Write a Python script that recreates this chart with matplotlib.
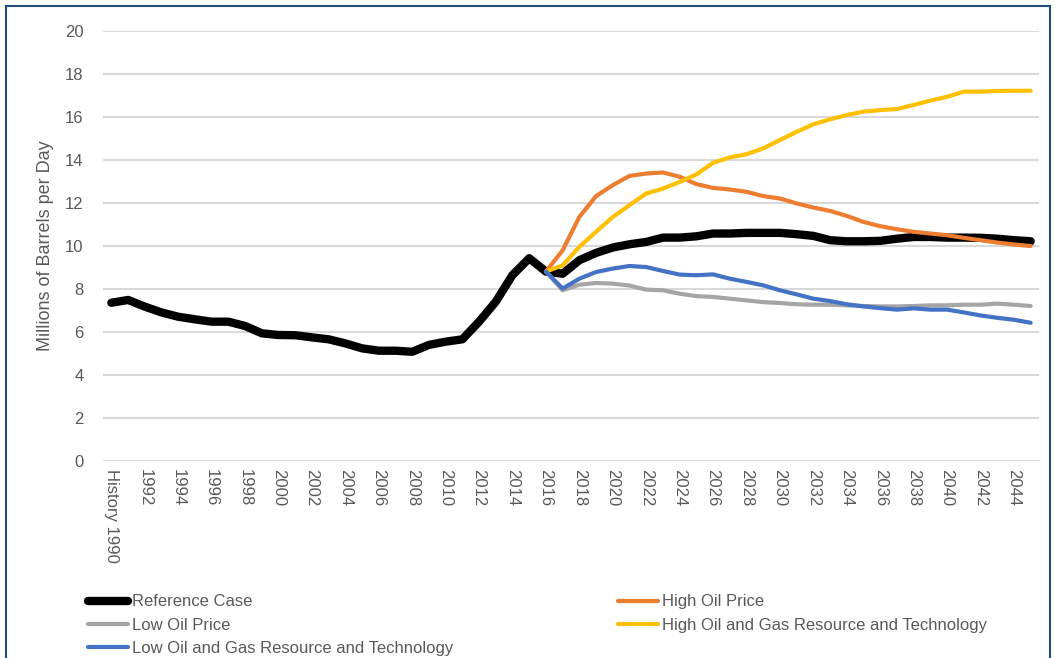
import matplotlib
matplotlib.use("Agg")
import matplotlib.pyplot as plt
from matplotlib.lines import Line2D
from matplotlib.patches import Rectangle

plt.rcParams['font.family'] = ['Liberation Sans', 'DejaVu Sans']

years = list(range(1990, 2046))
tick_labels = ['History 1990'] + [str(y) for y in range(1992, 2046, 2)]

# history 1990-2015, projections 2016-2045
history = [7.36, 7.49, 7.18, 6.91, 6.71, 6.59, 6.48, 6.48, 6.28, 5.94,
           5.86, 5.85, 5.75, 5.66, 5.47, 5.24, 5.13, 5.13, 5.08, 5.40,
           5.55, 5.66, 6.48, 7.41, 8.65, 9.43]

reference = [8.81, 8.71, 9.34, 9.68, 9.93, 10.08, 10.19, 10.39, 10.39, 10.45,
             10.58, 10.58, 10.61, 10.61, 10.61, 10.55, 10.47, 10.27, 10.22, 10.22,
             10.24, 10.34, 10.42, 10.42, 10.39, 10.39, 10.38, 10.34, 10.27, 10.22]
high_price = [8.81, 9.80, 11.35, 12.32, 12.83, 13.26, 13.37, 13.42, 13.22, 12.88,
              12.70, 12.63, 12.52, 12.32, 12.21, 11.98, 11.79, 11.63, 11.40, 11.12,
              10.92, 10.78, 10.66, 10.58, 10.50, 10.38, 10.27, 10.16, 10.07, 10.00]
low_price = [8.81, 7.94, 8.20, 8.28, 8.25, 8.16, 7.97, 7.94, 7.78, 7.67,
             7.63, 7.55, 7.47, 7.39, 7.35, 7.29, 7.27, 7.27, 7.24, 7.21,
             7.19, 7.19, 7.21, 7.24, 7.24, 7.27, 7.27, 7.32, 7.27, 7.21]
high_rt = [8.81, 9.10, 9.96, 10.66, 11.35, 11.90, 12.44, 12.67, 12.98, 13.33,
           13.87, 14.12, 14.27, 14.54, 14.93, 15.31, 15.66, 15.89, 16.09, 16.25,
           16.32, 16.37, 16.56, 16.76, 16.94, 17.18, 17.18, 17.21, 17.22, 17.22]
low_rt = [8.81, 8.02, 8.48, 8.79, 8.95, 9.07, 9.02, 8.84, 8.67, 8.64,
          8.68, 8.48, 8.33, 8.17, 7.94, 7.75, 7.55, 7.44, 7.29, 7.19,
          7.11, 7.04, 7.10, 7.04, 7.04, 6.91, 6.77, 6.66, 6.57, 6.43]

labels = ['Reference Case', 'High Oil Price', 'Low Oil Price',
          'High Oil and Gas Resource and Technology',
          'Low Oil and Gas Resource and Technology']
colors = ['#000000', '#ED7D31', '#A5A5A5', '#FFC000', '#4472C4']
widths = [6, 3, 3, 3, 3]

fig = plt.figure(figsize=(10.55, 6.58), dpi=100)
ax = fig.add_axes([103 / 1055, 1 - 461 / 658, 936 / 1055, 430 / 658])

n_hist = len(history)

# reference case continues the history line
ref_full = history + reference
ax.plot(range(len(ref_full)), ref_full, color=colors[0], lw=widths[0],
        solid_capstyle='round', solid_joinstyle='round', zorder=3)
# the other cases start at the first projection year
for vals, c, w in zip([high_price, low_price, high_rt, low_rt], colors[1:], widths[1:]):
    ax.plot(range(n_hist, n_hist + len(vals)), vals, color=c, lw=w,
            solid_capstyle='round', solid_joinstyle='round', zorder=4)

ax.set_xlim(-0.5, len(years) - 0.5)
ax.set_ylim(0, 20)
ax.set_yticks(range(0, 21, 2))
ax.set_xticks(range(0, len(years), 2))
ax.set_xticklabels(tick_labels, rotation=-90, va='top', ha='center')
ax.tick_params(axis='both', length=0, colors='#595959', labelsize=12)
ax.tick_params(axis='x', pad=6)
ax.tick_params(axis='y', pad=14)
ax.grid(axis='y', color='#D9D9D9', lw=1.5)
ax.set_axisbelow(True)
for s in ax.spines.values():
    s.set_visible(False)
ax.set_ylabel('Millions of Barrels per Day', color='#595959', fontsize=13, labelpad=8)

h = [Line2D([], [], color=c, lw=w, solid_capstyle='round') for c, w in zip(colors, widths)]
leg_kw = dict(loc='upper left', frameon=False, fontsize=12, handlelength=2.4,
              handletextpad=0.2, labelspacing=0.5, borderpad=0, labelcolor='#595959')
fig.legend([h[0], h[2], h[4]], [labels[0], labels[2], labels[4]],
           bbox_to_anchor=(80 / 1055, 1 - 586 / 658), **leg_kw)
fig.legend([h[1], h[3]], [labels[1], labels[3]],
           bbox_to_anchor=(610 / 1055, 1 - 586 / 658), **leg_kw)

fig.add_artist(Rectangle((6 / 1055, -0.01), 1044 / 1055, 1 - 6 / 658 + 0.01,
                         transform=fig.transFigure, fill=False,
                         edgecolor='#1F4E79', lw=1.5))

fig.savefig('out.png', dpi=100)
